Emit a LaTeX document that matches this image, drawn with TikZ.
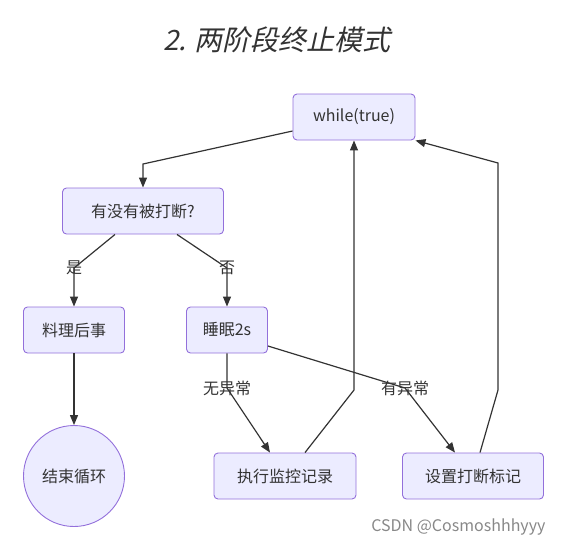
\documentclass[tikz,border=0pt]{standalone}
\usepackage{fontspec}
\setmainfont{Noto Sans CJK SC}
\newfontfamily\titlefont[FakeSlant=0.22]{Noto Sans CJK SC}
\usetikzlibrary{arrows.meta,positioning}
\definecolor{boxfill}{HTML}{ECECFF}
\definecolor{boxline}{HTML}{9370DB}
\definecolor{ink}{HTML}{333333}
\definecolor{mark}{HTML}{888888}
\tikzset{
  flowbox/.style={draw=boxline, fill=boxfill, line width=0.9pt, rounded corners=4pt,
    text=ink, font=\fontsize{16}{18}\selectfont, minimum height=46, inner sep=0pt},
  endcirc/.style={circle, draw=boxline, fill=boxfill, line width=0.9pt,
    text=ink, font=\fontsize{16}{18}\selectfont, minimum size=101, inner sep=0pt},
  flow/.style={-{Triangle[length=10pt, width=8pt]}, draw=ink, line width=1.2pt},
  elab/.style={text=ink, font=\fontsize{16}{18}\selectfont, inner sep=1pt},
}

\begin{document}
\begin{tikzpicture}[x=1pt,y=-1pt]
\useasboundingbox (0,0) rectangle (564,547);

% ============ title ==========================================================
\node[text=ink, font=\titlefont\fontsize{28}{30}\selectfont] (title) at (277,40) {2. 两阶段终止模式};

% ============ boxes ==========================================================
\node[flowbox, minimum width=122] (loop) at (354,117) {while(true)};
\node[flowbox, minimum width=161] (ask) at (143,211) {有没有被打断?};
\node[flowbox, minimum width=101] (cleanup) at (74,330) {料理后事};
\node[flowbox, minimum width=81] (sleep) at (227,330) {睡眠2s};
\node[endcirc] (stop) at (74,476) {结束循环};
\node[flowbox, minimum width=142] (monitor) at (285,476) {执行监控记录};
\node[flowbox, minimum width=141] (setflag) at (473,476) {设置打断标记};

% bend points
\coordinate (c1) at (143,164);
\coordinate (c2) at (74,268);
\coordinate (c3) at (227,268);
\coordinate (c4) at (227,388);
\coordinate (c5) at (405,388);
\coordinate (c6) at (354,390);
\coordinate (c7) at (498,390);
\coordinate (c8) at (498,163);

% ============ connectors =====================================================
\draw[flow] (loop.west |- 0,131) -- (c1) -- (ask.north);
\draw[flow] (ask.south -| 115,0) -- (c2) -- (cleanup.north);
\draw[flow] (ask.south -| 177,0) -- (c3) -- (sleep.north);
\draw[flow] (cleanup.south) -- (stop.north);
\draw[flow] (sleep.south) -- (c4) -- (monitor.north -| 270,0);
\draw[flow] (sleep.east |- 0,346) -- (c5) -- (setflag.north -| 455,0);
\draw[flow] (monitor.north -| 305,0) -- (c6) -- (loop.south);
\draw[flow] (setflag.north -| 480,0) -- (c7) -- (c8) -- (loop.south east);

% ============ edge labels ====================================================
\node[elab] (yes) at (c2) {是};
\node[elab] (no) at (c3) {否};
\node[elab] (okay) at (c4) {无异常};
\node[elab] (fail) at (c5) {有异常};

% watermark
\node[text=mark, font=\fontsize{16}{18}\selectfont, anchor=east] (wm) at (549,527) {CSDN @Cosmoshhhyyy};
\end{tikzpicture}
\end{document}
